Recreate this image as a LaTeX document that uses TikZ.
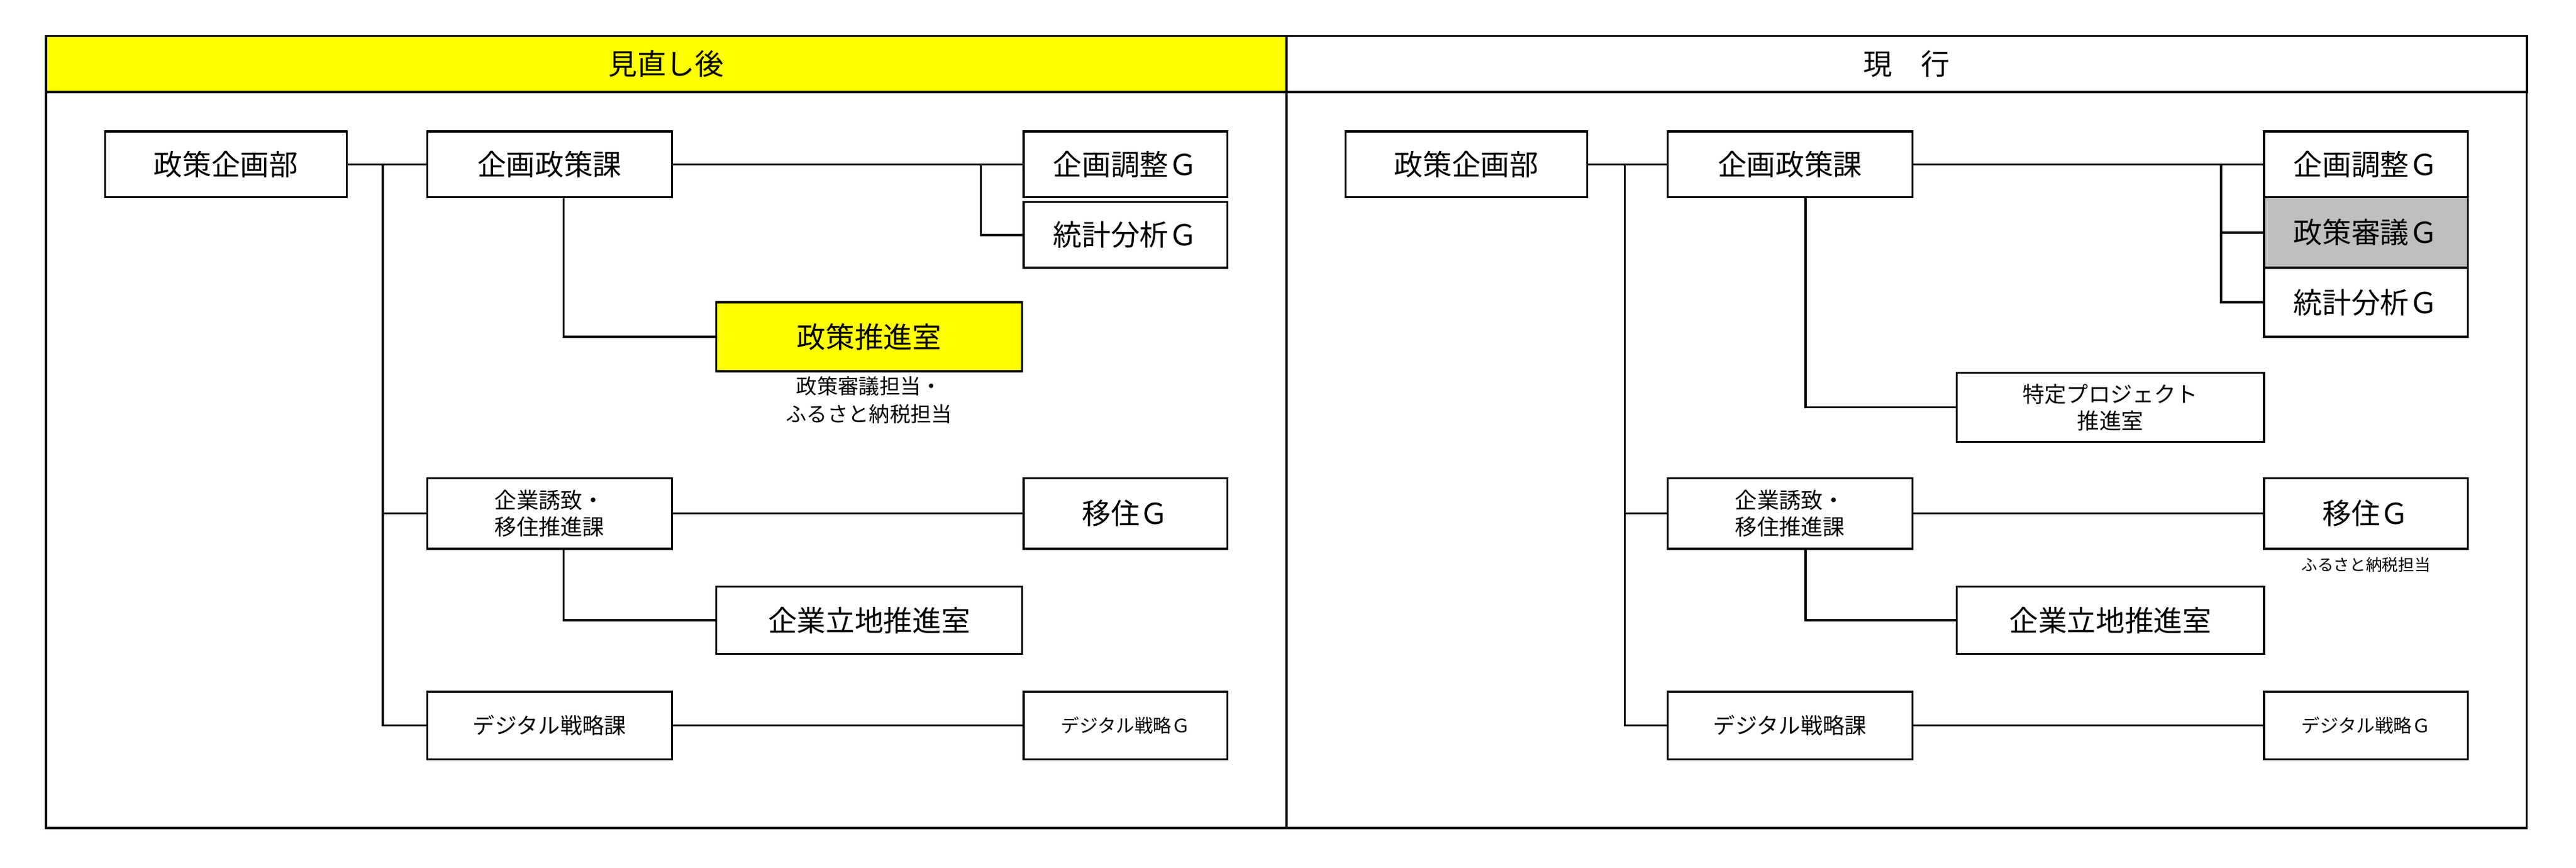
\documentclass[tikz,border=0pt]{standalone}
\usepackage{fontspec}
\setmainfont{Noto Sans CJK JP}
\newcommand\bx[7]{\pgfmathsetmacro\bxx{(#3+#5)/2*0.05}\pgfmathsetmacro\bxy{-(#4+#6)/2*0.05}\pgfmathsetmacro\bxw{(#5-#3)*0.05}\pgfmathsetmacro\bxh{(#6-#4)*0.05}\node[box,#1,minimum width=\bxw cm,minimum height=\bxh cm] (#2) at (\bxx,\bxy) {#7};}
\tikzset{
 box/.style={draw,line width=1.8pt,inner sep=0pt,font=\fontsize{25}{29}\selectfont,align=center},
 sm/.style={font=\fontsize{19}{23}\selectfont},
 ln/.style={line width=1.8pt},
 lbl/.style={font=\fontsize{18}{24}\selectfont,align=center}
}
\definecolor{yel}{RGB}{255,255,0}
\definecolor{gry}{RGB}{191,191,191}
\begin{document}
\begin{tikzpicture}
\useasboundingbox (0,0) rectangle (78.4,-26.4);
% frame
\bx{fill=yel}{hl}{28}{22}{783}{56}{見直し後}
\bx{}{hr}{783}{22}{1538}{56}{現\quad 行}
\draw[ln] (1.4,-2.8) rectangle (76.9,-25.2);
\draw[ln] (39.15,-2.8) -- (39.15,-25.2);
% left
\bx{}{lp}{64}{80}{211}{120}{政策企画部}
\bx{}{lk}{260}{80}{409}{120}{企画政策課}
\bx{}{lg1}{623}{80}{747}{120}{企画調整Ｇ}
\bx{}{lg2}{623}{123}{747}{163}{統計分析Ｇ}
\bx{fill=yel}{ls}{436}{184}{622}{226}{政策推進室}
\node[lbl,anchor=north] (lsl) at (ls.south) {政策審議担当・\\ふるさと納税担当};
\bx{sm}{lm}{260}{291}{409}{334}{企業誘致・\\移住推進課}
\bx{}{li}{623}{291}{747}{334}{移住Ｇ}
\bx{}{lr}{436}{357}{622}{398}{企業立地推進室}
\bx{sm}{ld}{260}{421}{409}{462}{デジタル戦略課}
\bx{font=\fontsize{16}{20}\selectfont}{ldg}{623}{421}{747}{462}{デジタル戦略Ｇ}
\coordinate (lt) at (11.65,0);
\coordinate (lj) at (29.85,0);
\coordinate (lv) at (17.15,0);
\draw[ln] (lp.east) -- (lk.west);
\draw[ln] (lt |- lp.east) -- (lt |- ld.west) -- (ld.west);
\draw[ln] (lt |- lm.west) -- (lm.west);
\draw[ln] (lk.east) -- (lg1.west);
\draw[ln] (lj |- lg1.west) -- (lj |- lg2.west) -- (lg2.west);
\draw[ln] (lv |- lk.south) -- (lv |- ls.west) -- (ls.west);
\draw[ln] (lm.east) -- (li.west);
\draw[ln] (lv |- lm.south) -- (lv |- lr.west) -- (lr.west);
\draw[ln] (ld.east) -- (ldg.west);
% right
\bx{}{rp}{819}{80}{966}{120}{政策企画部}
\bx{}{rk}{1015}{80}{1164}{120}{企画政策課}
\bx{}{rg1}{1378}{80}{1502}{120}{企画調整Ｇ}
\bx{fill=gry}{rg2}{1378}{120}{1502}{163}{政策審議Ｇ}
\bx{}{rg3}{1378}{163}{1502}{205}{統計分析Ｇ}
\bx{sm}{rs}{1191}{227}{1378}{269}{特定プロジェクト\\推進室}
\bx{sm}{rm}{1015}{291}{1164}{334}{企業誘致・\\移住推進課}
\bx{}{ri}{1378}{291}{1502}{334}{移住Ｇ}
\node[font=\fontsize{14}{17}\selectfont,anchor=north] (ril) at ([yshift=-0.1cm]ri.south) {ふるさと納税担当};
\bx{}{rr}{1191}{357}{1378}{398}{企業立地推進室}
\bx{sm}{rd}{1015}{421}{1164}{462}{デジタル戦略課}
\bx{font=\fontsize{16}{20}\selectfont}{rdg}{1378}{421}{1502}{462}{デジタル戦略Ｇ}
\coordinate (rt) at (49.45,0);
\coordinate (rj) at (67.6,0);
\coordinate (rv) at (54.95,0);
\draw[ln] (rp.east) -- (rk.west);
\draw[ln] (rt |- rp.east) -- (rt |- rd.west) -- (rd.west);
\draw[ln] (rt |- rm.west) -- (rm.west);
\draw[ln] (rk.east) -- (rg1.west);
\draw[ln] (rj |- rg1.west) -- (rj |- rg3.west) -- (rg3.west);
\draw[ln] (rj |- rg2.west) -- (rg2.west);
\draw[ln] (rv |- rk.south) -- (rv |- rs.west) -- (rs.west);
\draw[ln] (rm.east) -- (ri.west);
\draw[ln] (rv |- rm.south) -- (rv |- rr.west) -- (rr.west);
\draw[ln] (rd.east) -- (rdg.west);
\end{tikzpicture}
\end{document}
